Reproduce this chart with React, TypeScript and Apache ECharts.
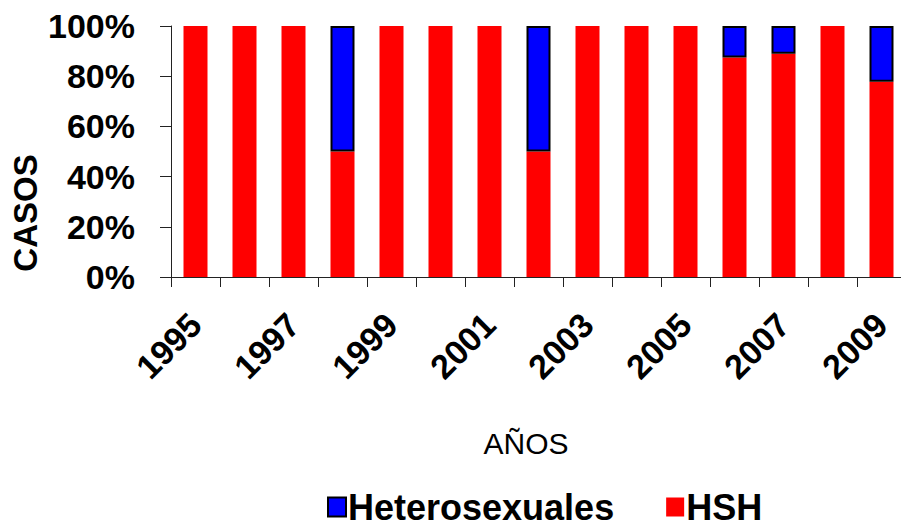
import React, { useEffect, useRef } from "react";
import * as echarts from "echarts";

// Percentage of cases per year by transmission group
const years = ["1995", "1996", "1997", "1998", "1999", "2000", "2001", "2002", "2003", "2004", "2005", "2006", "2007", "2008", "2009"];
const hshPct = [100, 100, 100, 50, 100, 100, 100, 50, 100, 100, 100, 87.5, 88.9, 100, 77.8];
const heteroPct = [0, 0, 0, 50, 0, 0, 0, 50, 0, 0, 0, 12.5, 11.1, 0, 22.2];
const yTicks = [0, 20, 40, 60, 80, 100];

const FONT = "'Liberation Sans', Arial, sans-serif";

export default function App() {
  const ref = useRef<HTMLDivElement>(null);

  useEffect(() => {
    document.body.style.margin = "0";
    if (!ref.current) return;
    const chart = echarts.init(ref.current, null, { renderer: "svg" });

    chart.setOption({
      animation: false,
      backgroundColor: "#ffffff",
      textStyle: { fontFamily: FONT },
      grid: {
        left: 171,
        top: 26,
        width: 735,
        height: 251,
        containLabel: false,
        outerBoundsMode: "none",
      },
      legend: {
        data: ["Heterosexuales", "HSH"],
        left: 327,
        top: 489,
        padding: 0,
        itemWidth: 18,
        itemHeight: 19,
        itemGap: 52,
        icon: "rect",
        textStyle: {
          fontFamily: FONT,
          fontSize: 36,
          fontWeight: "bold",
          color: "#000",
          padding: [0, 0, 0, -3],
        },
      },
      xAxis: {
        type: "category",
        data: years,
        boundaryGap: true,
        axisLine: { lineStyle: { color: "#222", width: 1 } },
        axisTick: { show: true, interval: 0, length: 10, lineStyle: { color: "#222" } },
        axisLabel: {
          interval: 1,
          rotate: 45,
          margin: 42,
          fontSize: 34,
          fontWeight: "bold",
          color: "#000",
          fontFamily: FONT,
        },
        splitLine: { show: false },
      },
      yAxis: {
        type: "value",
        min: yTicks[0],
        max: yTicks[yTicks.length - 1],
        interval: 20,
        axisLine: { show: true, lineStyle: { color: "#222", width: 1 } },
        axisTick: { show: true, length: 11, lineStyle: { color: "#222" } },
        splitLine: { show: false },
        axisLabel: {
          formatter: "{value}%",
          margin: 36,
          fontSize: 34,
          fontWeight: "bold",
          color: "#000",
          fontFamily: FONT,
        },
      },
      graphic: [
        {
          type: "text",
          x: 25,
          y: 213,
          rotation: Math.PI / 2,
          style: {
            text: "CASOS",
            fontFamily: FONT,
            fontSize: 33,
            fontWeight: "bold",
            fill: "#000",
            align: "center",
            verticalAlign: "middle",
          },
        },
        {
          type: "text",
          x: 526,
          y: 443,
          style: {
            text: "AÑOS",
            fontFamily: FONT,
            fontSize: 30,
            fill: "#000",
            align: "center",
            verticalAlign: "middle",
          },
        },
      ],
      series: [
        {
          name: "HSH",
          type: "bar",
          stack: "total",
          barWidth: 24,
          data: hshPct.map((v) => (v === 0 ? "-" : v)),
          itemStyle: { color: "#ff0000" },
        },
        {
          name: "Heterosexuales",
          type: "bar",
          stack: "total",
          barWidth: 24,
          data: heteroPct.map((v) => (v === 0 ? "-" : v)),
          itemStyle: { color: "#0000ff", borderColor: "#000", borderWidth: 2 },
        },
      ],
    });

    return () => chart.dispose();
  }, []);

  return <div ref={ref} style={{ width: 901, height: 530 }} />;
}
